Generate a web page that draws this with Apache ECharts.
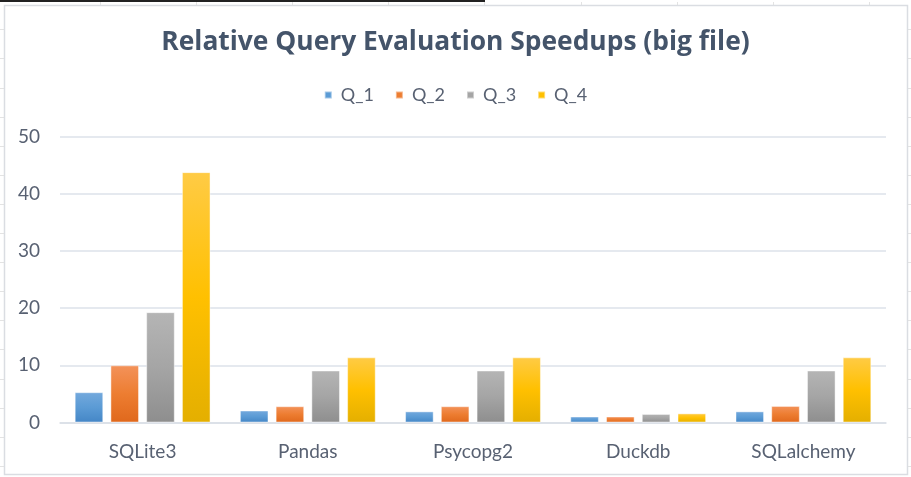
<!DOCTYPE html>
<html>
<head>
<meta charset="utf-8">
<script src="https://cdn.jsdelivr.net/npm/echarts@6/dist/echarts.min.js"></script>
<style>
html,body{margin:0;padding:0;background:#fff;}
#chart{width:911px;height:477px;}
</style>
</head>
<body>
<div id="chart"></div>
<script>
var categories = ['SQLite3', 'Pandas', 'Psycopg2', 'Duckdb', 'SQLalchemy'];
var seriesNames = ['Q_1', 'Q_2', 'Q_3', 'Q_4'];
var q1 = [5.3, 2.1, 1.95, 1.05, 1.95];
var q2 = [10.0, 2.85, 2.85, 1.05, 2.9];
var q3 = [19.3, 9.1, 9.1, 1.5, 9.1];
var q4 = [43.8, 11.4, 11.4, 1.6, 11.4];
var yTicks = [0, 10, 20, 30, 40, 50];

var palettes = [
  ['#74A9DD', '#5B9BD5', '#4486C6'],
  ['#F3925A', '#ED7D31', '#E0681C'],
  ['#B5B5B5', '#A5A5A5', '#8E8E8E'],
  ['#FFCB45', '#FFC000', '#E4AF00']
];
var legendColors = ['#5B9BD5', '#ED7D31', '#A5A5A5', '#FFC000'];
var values = [q1, q2, q3, q4];

function grad(p) {
  return new echarts.graphic.LinearGradient(0, 0, 0, 1, [
    {offset: 0, color: p[0]}, {offset: 0.5, color: p[1]}, {offset: 1, color: p[2]}
  ]);
}

var FONT = 'Lato';
var series = seriesNames.map(function (n, i) {
  return {
    name: n,
    type: 'bar',
    data: values[i],
    barWidth: 28.6,
    barGap: '25%',
    itemStyle: {color: grad(palettes[i]), borderColor: 'rgba(255,255,255,0.45)', borderWidth: 1},
    emphasis: {disabled: true}
  };
});

// spreadsheet background decoration
var deco = [];
deco.push({type: 'rect', shape: {x: 0, y: 0, width: 485, height: 2}, style: {fill: '#222'}, silent: true});
for (var y = 29.3; y < 477; y += 29.1) {
  deco.push({type: 'line', shape: {x1: 0, y1: Math.round(y) + 0.5, x2: 4, y2: Math.round(y) + 0.5}, style: {stroke: '#E3E3E3', lineWidth: 1}, silent: true});
  deco.push({type: 'line', shape: {x1: 908, y1: Math.round(y) + 0.5, x2: 911, y2: Math.round(y) + 0.5}, style: {stroke: '#E3E3E3', lineWidth: 1}, silent: true});
}
for (var x = 100; x < 911; x += 96.1) {
  deco.push({type: 'line', shape: {x1: Math.round(x) + 0.5, y1: 2, x2: Math.round(x) + 0.5, y2: 5}, style: {stroke: '#E3E3E3', lineWidth: 1}, silent: true});
}
deco.push({type: 'rect', shape: {x: 4.5, y: 5.5, width: 903, height: 469}, style: {fill: 'none', stroke: '#DADDE2', lineWidth: 1.5}, silent: true});

var chart = echarts.init(document.getElementById('chart'), null, {renderer: 'canvas'});
chart.setOption({
  animation: false,
  backgroundColor: '#fff',
  textStyle: {fontFamily: FONT},
  title: {
    text: 'Relative Query Evaluation Speedups (big file)',
    left: 'center',
    top: 24,
    textStyle: {fontFamily: 'Open Sans', fontWeight: 'bold', fontSize: 26.4, color: '#44546A'}
  },
  legend: {
    data: seriesNames.map(function (n, i) { return {name: n, itemStyle: {color: legendColors[i]}}; }),
    top: 81,
    left: 'center',
    itemWidth: 7,
    itemHeight: 7,
    itemGap: 21,
    icon: 'rect',
    textStyle: {fontFamily: FONT, fontSize: 18, color: '#586172', padding: [0, 0, 0, 4]}
  },
  grid: {left: 60, right: 25, top: 136.7, bottom: 54.5, containLabel: false},
  xAxis: {
    type: 'category',
    data: categories,
    axisLine: {lineStyle: {color: '#D9DEE6', width: 1.5}},
    axisTick: {show: false},
    axisLabel: {fontFamily: FONT, fontSize: 19, color: '#586172', margin: 20}
  },
  yAxis: {
    type: 'value',
    min: 0, max: 50, interval: 10,
    axisLine: {show: false},
    axisTick: {show: false},
    splitLine: {lineStyle: {color: '#DDE2EA', width: 1.5}},
    axisLabel: {fontFamily: FONT, fontSize: 19, color: '#586172', margin: 20,
      formatter: function (v) { return yTicks.indexOf(v) >= 0 ? String(v) : ''; }}
  },
  series: series,
  graphic: deco
});
</script>
</body>
</html>
